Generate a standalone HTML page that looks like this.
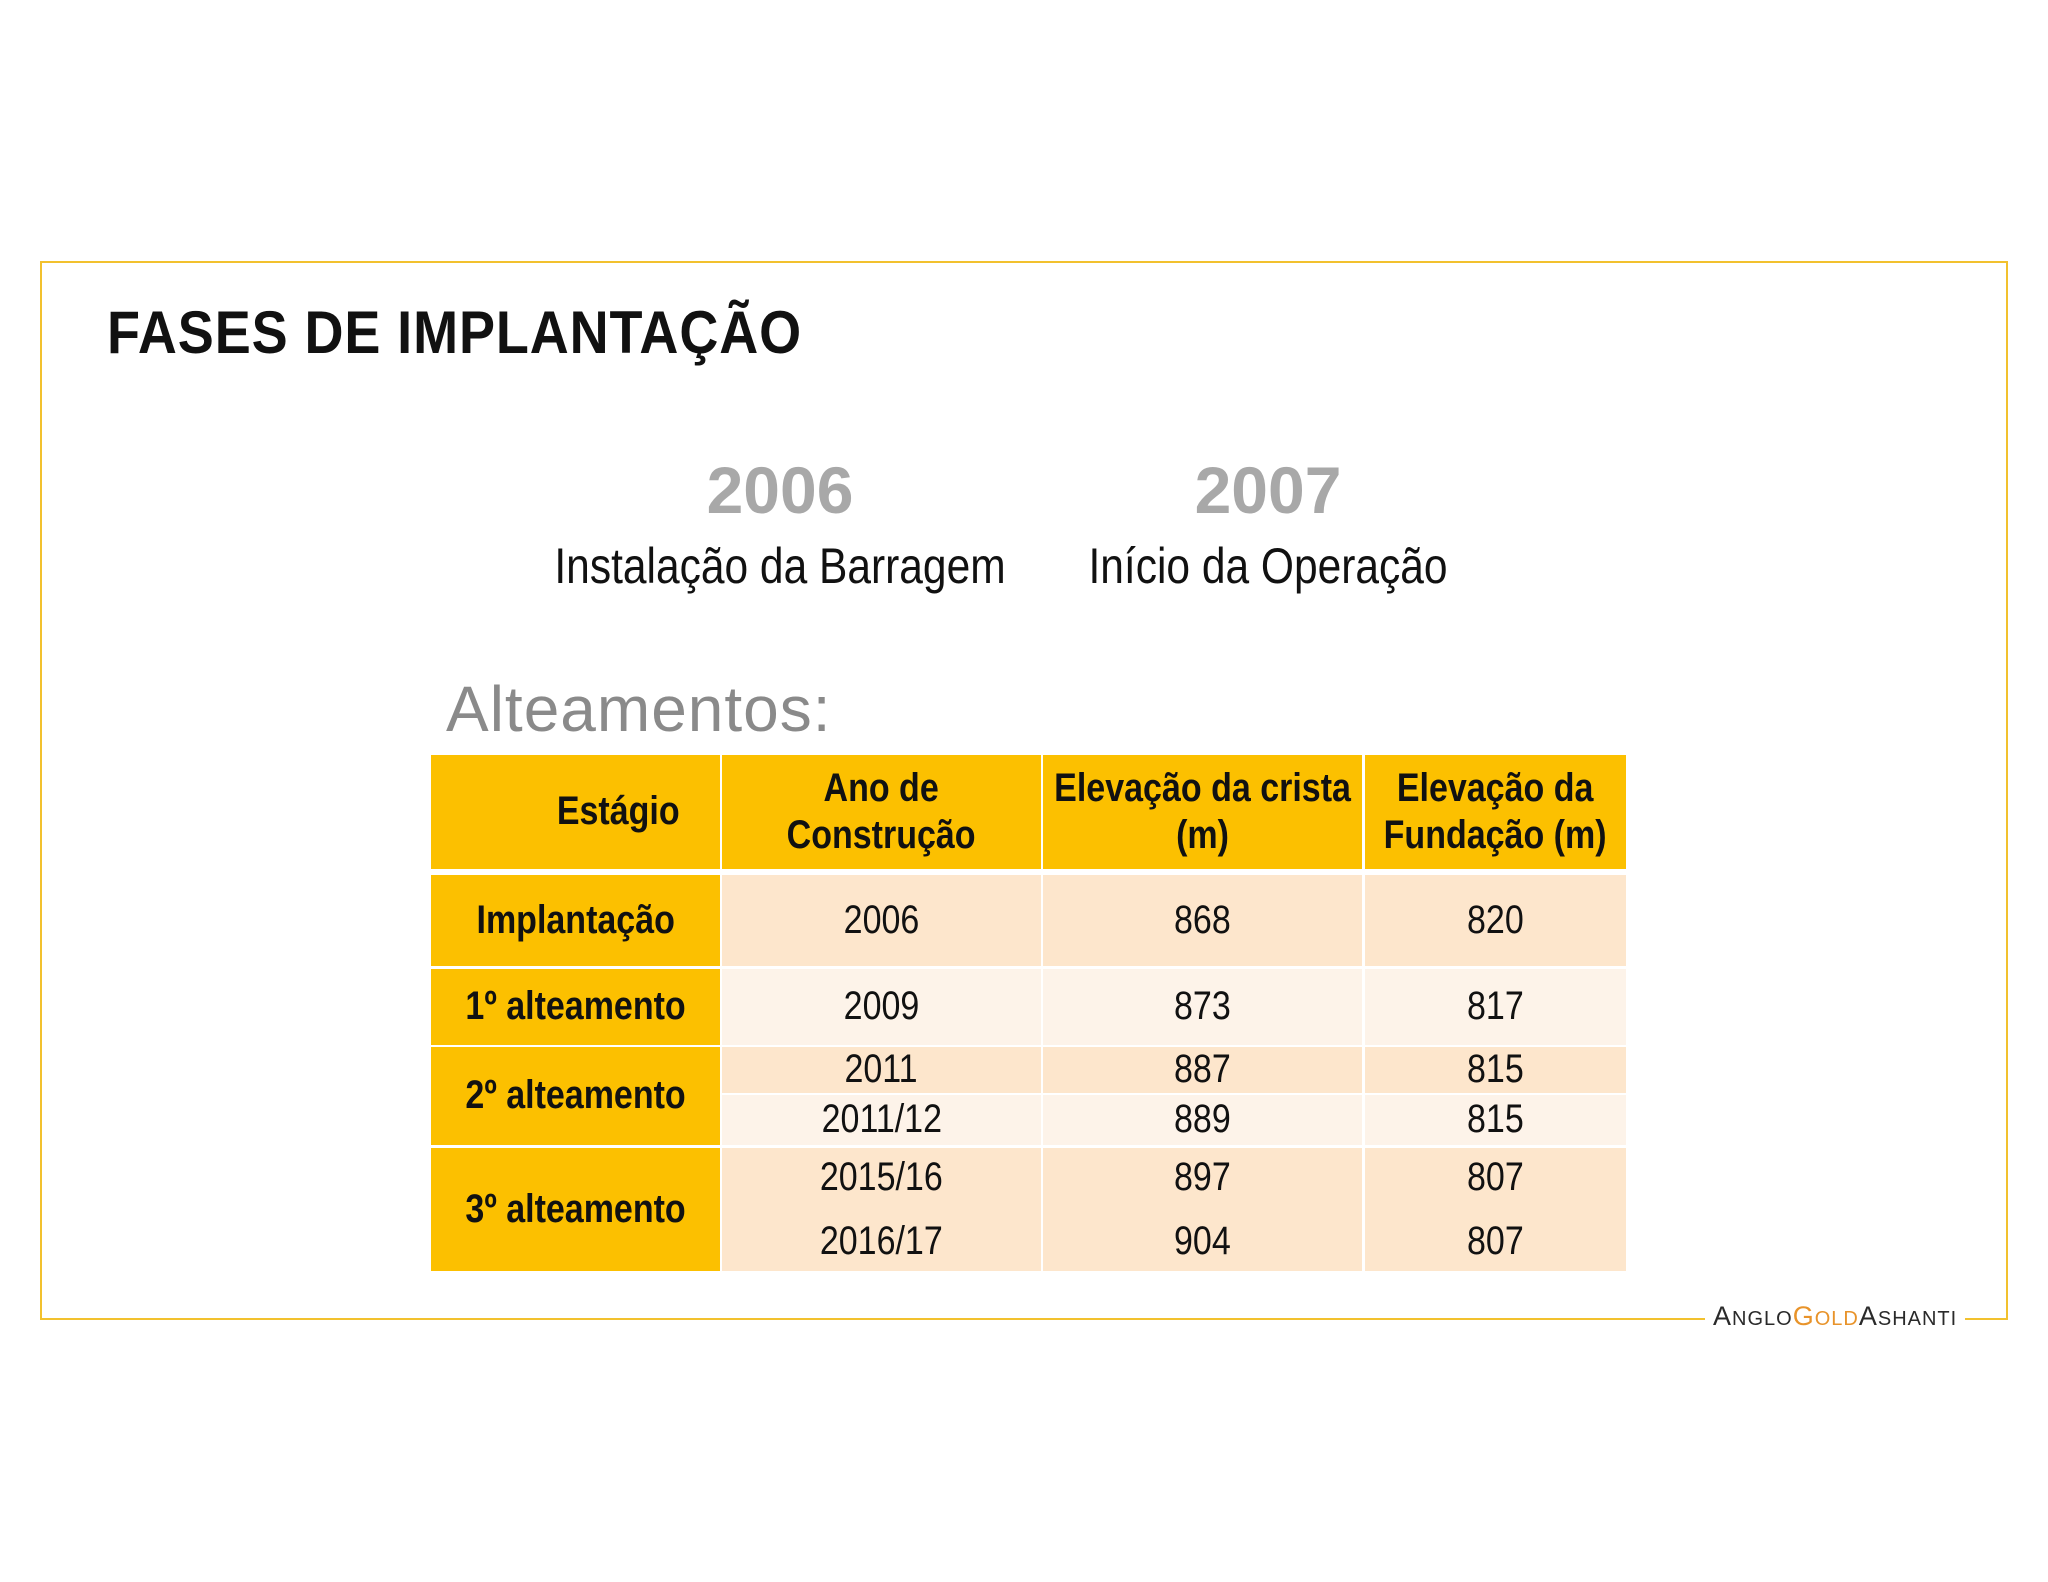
<!DOCTYPE html>
<html><head><meta charset="utf-8">
<style>
html,body{margin:0;padding:0;background:#fff;}
body{width:2048px;height:1582px;position:relative;overflow:hidden;font-family:"Liberation Sans",sans-serif;}
.abs{position:absolute;}
.frame{left:40px;top:261px;width:1968px;height:1057px;border:2px solid #F2C12E;border-bottom:none;box-sizing:border-box;}
.bl{height:2px;background:#F2C12E;top:1318px;}
.title{left:107px;top:298px;font-weight:bold;font-size:60px;color:#111;letter-spacing:1px;transform:scaleX(0.9);transform-origin:left center;white-space:nowrap;}
.year{font-weight:bold;font-size:66px;color:#A8A8A8;width:600px;text-align:center;}
.sub{font-size:50px;color:#111;width:600px;text-align:center;transform:scaleX(0.85);white-space:nowrap;}
.alt{left:446px;top:672px;font-size:64px;color:#8a8a8a;letter-spacing:1px;}
.cell{display:flex;align-items:center;justify-content:center;text-align:center;font-size:40px;color:#111;box-sizing:border-box;white-space:nowrap;}
.cell span{display:inline-block;transform:scaleX(0.85);line-height:1.18;white-space:nowrap;}
.y{background:#FCC000;font-weight:bold;}
.p{background:#FDE6CC;}
.l{background:#FDF3E9;}
</style></head><body>
<div class="abs frame"></div>
<div class="abs bl" style="left:40px;width:1665px"></div>
<div class="abs bl" style="left:1965px;width:43px"></div>
<div class="abs title">FASES DE IMPLANTAÇÃO</div>

<div class="abs year" style="left:480px;top:452px">2006</div>
<div class="abs sub" style="left:480px;top:537px">Instalação da Barragem</div>
<div class="abs year" style="left:968px;top:452px">2007</div>
<div class="abs sub" style="left:968px;top:537px">Início da Operação</div>

<div class="abs alt">Alteamentos:</div>

<div>
<div class="abs cell y" style="left:431px;top:755px;width:289px;height:114px;justify-content:flex-end;padding-right:30px"><span>Estágio</span></div>
<div class="abs cell y" style="left:722px;top:755px;width:319px;height:114px"><span>Ano de<br>Construção</span></div>
<div class="abs cell y" style="left:1043px;top:755px;width:319px;height:114px"><span>Elevação da crista<br>(m)</span></div>
<div class="abs cell y" style="left:1365px;top:755px;width:261px;height:114px"><span>Elevação da<br>Fundação (m)</span></div>

<div class="abs cell y" style="left:431px;top:875px;width:289px;height:91px"><span>Implantação</span></div>
<div class="abs cell p" style="left:722px;top:875px;width:319px;height:91px"><span>2006</span></div>
<div class="abs cell p" style="left:1043px;top:875px;width:319px;height:91px"><span>868</span></div>
<div class="abs cell p" style="left:1365px;top:875px;width:261px;height:91px"><span>820</span></div>

<div class="abs cell y" style="left:431px;top:969px;width:289px;height:76px"><span>1º alteamento</span></div>
<div class="abs cell l" style="left:722px;top:969px;width:319px;height:76px"><span>2009</span></div>
<div class="abs cell l" style="left:1043px;top:969px;width:319px;height:76px"><span>873</span></div>
<div class="abs cell l" style="left:1365px;top:969px;width:261px;height:76px"><span>817</span></div>

<div class="abs cell y" style="left:431px;top:1047px;width:289px;height:98px"><span>2º alteamento</span></div>
<div class="abs cell p" style="left:722px;top:1047px;width:319px;height:46px"><span>2011</span></div>
<div class="abs cell p" style="left:1043px;top:1047px;width:319px;height:46px"><span>887</span></div>
<div class="abs cell p" style="left:1365px;top:1047px;width:261px;height:46px"><span>815</span></div>
<div class="abs cell l" style="left:722px;top:1095px;width:319px;height:50px"><span>2011/12</span></div>
<div class="abs cell l" style="left:1043px;top:1095px;width:319px;height:50px"><span>889</span></div>
<div class="abs cell l" style="left:1365px;top:1095px;width:261px;height:50px"><span>815</span></div>

<div class="abs cell y" style="left:431px;top:1148px;width:289px;height:123px"><span>3º alteamento</span></div>
<div class="abs cell p" style="left:722px;top:1148px;width:319px;height:123px;flex-direction:column;gap:16px"><span>2015/16</span><span>2016/17</span></div>
<div class="abs cell p" style="left:1043px;top:1148px;width:319px;height:123px;flex-direction:column;gap:16px"><span>897</span><span>904</span></div>
<div class="abs cell p" style="left:1365px;top:1148px;width:261px;height:123px;flex-direction:column;gap:16px"><span>807</span><span>807</span></div>
</div>

<div class="abs" style="left:1713px;top:1301px;font-size:27px;letter-spacing:1px;color:#2a2a2a;white-space:nowrap">A<span style="font-size:20px">NGLO</span><span style="color:#E8932A">G<span style="font-size:20px">OLD</span></span>A<span style="font-size:20px">SHANTI</span></div>
</body></html>
